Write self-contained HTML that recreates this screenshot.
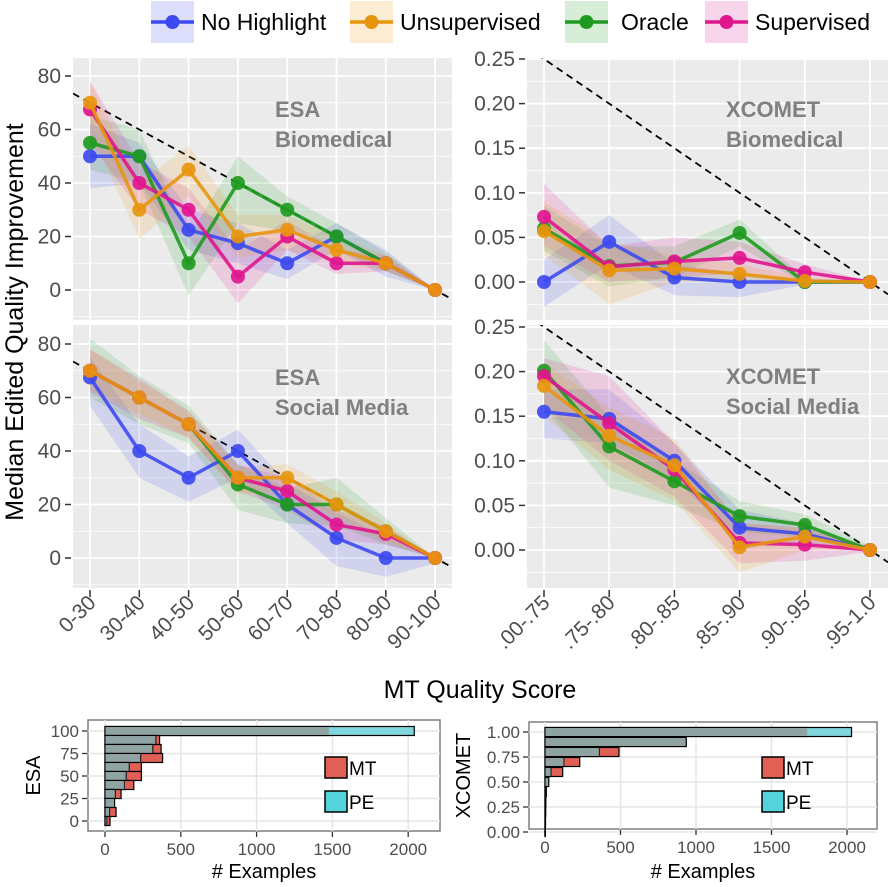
<!DOCTYPE html>
<html><head><meta charset="utf-8"><style>
html,body{margin:0;padding:0;background:#fff;}
svg{display:block;font-family:"Liberation Sans",Arial,sans-serif;}
.tk{fill:#4d4d4d;font-size:21px;}
.htk{fill:#4d4d4d;font-size:17px;}
.plab{fill:#808080;font-size:22px;font-weight:bold;}
</style></head><body>
<svg id="chart" width="892" height="887" viewBox="0 0 892 887" xmlns="http://www.w3.org/2000/svg">
<defs>
<clipPath id="cTL"><rect x="73" y="58" width="379" height="262"/></clipPath>
<clipPath id="cTR"><rect x="527" y="58" width="361" height="262"/></clipPath>
<clipPath id="cBL"><rect x="73" y="325" width="379" height="263"/></clipPath>
<clipPath id="cBR"><rect x="527" y="325" width="361" height="263"/></clipPath>
</defs>
<g id="root"></g>
</svg>
<script>
// ---- data ----
const esaCats = ["0-30","30-40","40-50","50-60","60-70","70-80","80-90","90-100"];
const xcCats = [".00-.75",".75-.80",".80-.85",".85-.90",".90-.95",".95-1.0"];
const seriesNames = ["No Highlight","Unsupervised","Oracle","Supervised"];
const seriesColors = ["#3d4af0","#e8950e","#1f9a1f","#e0168f"];
const drawOrder = [0,2,3,1];
const esaTicks = [0,20,40,60,80];
const xcTicks = [0,0.05,0.10,0.15,0.20,0.25];
const xcTickLabels = ["0.00","0.05","0.10","0.15","0.20","0.25"];

// ESA Biomedical
const esaBioBlue = [50,50,22.5,17.5,10,20,10,0];
const esaBioOrange = [70,30,45,20,22.5,15,10,0];
const esaBioGreen = [55,50,10,40,30,20,10,0];
const esaBioPink = [67.5,40,30,5,20,10,10,0];
const esaBioLo = [[38,40,15,10,4,15,5,0],[60,19,35,12,15,10,7,0],[45,40,-2,25,22,15,7,0],[55,30,20,-5,15,6,7,0]];
const esaBioHi = [[62,55,30,25,15,25,15,0],[78,40,54,28,28,20,13,0],[65,60,20,50,35,25,14,0],[78,48,38,15,26,15,13,0]];
// XCOMET Biomedical
const xcBioBlue = [0,0.045,0.005,0,0,0];
const xcBioOrange = [0.057,0.013,0.015,0.009,0.001,0];
const xcBioGreen = [0.06,0.018,0.022,0.055,0,0];
const xcBioPink = [0.073,0.017,0.023,0.027,0.011,0];
const xcBioLo = [[-0.028,0.02,-0.015,-0.017,-0.003,0],[0.03,-0.025,0,0,-0.002,0],[0.035,-0.005,0.005,0.04,-0.003,0],[0.04,0,0.005,0.01,0,0]];
const xcBioHi = [[0.025,0.075,0.02,0.01,0.003,0],[0.09,0.045,0.03,0.02,0.005,0],[0.085,0.04,0.04,0.07,0.004,0],[0.11,0.04,0.05,0.045,0.02,0]];
// ESA Social Media
const esaSocBlue = [67.5,40,30,40,20,7.5,0,0];
const esaSocOrange = [70,60,50,30,30,20,10,0];
const esaSocGreen = [70,60,50,27.5,20,20,10,0];
const esaSocPink = [70,60,50,30,25,12.5,9,0];
const esaSocLo = [[57,30,21,30,13,-3,-7,-2],[63,54,45,24,25,15,6,0],[60,50,43,18,13,12,5,0],[62,52,45,25,18,7,5,0]];
const esaSocHi = [[75,50,38,48,28,17,8,0],[78,66,55,34,35,25,13,0],[82,68,57,35,26,30,15,0],[78,67,55,35,30,18,12,0]];
// XCOMET Social Media
const xcSocBlue = [0.155,0.147,0.1,0.025,0.018,0];
const xcSocOrange = [0.184,0.128,0.095,0.003,0.015,0];
const xcSocGreen = [0.201,0.116,0.077,0.038,0.028,0];
const xcSocPink = [0.195,0.142,0.09,0.008,0.006,0];
const xcSocLo = [[0.125,0.12,0.08,0.01,0.005,0],[0.15,0.09,0.055,-0.025,0,0],[0.16,0.07,0.05,0.02,0.015,-0.003],[0.16,0.1,0.06,-0.015,-0.012,-0.002]];
const xcSocHi = [[0.18,0.18,0.12,0.045,0.03,0],[0.21,0.16,0.125,0.03,0.025,0],[0.235,0.15,0.1,0.055,0.04,0.005],[0.215,0.195,0.12,0.03,0.025,0.004]];

// histograms
const esaBins = [100,90,80,70,60,50,40,30,20,10,0];
const esaMT = [1480,360,370,380,240,240,190,106,60,73,33];
const esaPE = [2040,335,315,235,160,140,128,68,63,30,12];
const xcBins = [1.0,0.9,0.8,0.7,0.6,0.5,0.4,0.3,0.2,0.1,0.0];
const xcMT = [1740,935,490,230,117,22,8,5,4,3,2];
const xcPE = [2030,935,360,125,40,25,8,5,4,3,2];
const histXTicks = [0,500,1000,1500,2000];
const esaHistYTicks = [0,25,50,75,100];
const xcHistYTicks = [0,0.25,0.5,0.75,1.0];
const xcHistYLabels = ["0.00","0.25","0.50","0.75","1.00"];

const NS="http://www.w3.org/2000/svg";
const root=document.getElementById('root');
function el(tag,attrs,parent,text){const e=document.createElementNS(NS,tag);for(const k in attrs)e.setAttribute(k,attrs[k]);if(text!==undefined)e.textContent=text;(parent||root).appendChild(e);return e;}

function panel(cfg){
  const g=el('g',{});
  
  
  const {px,py,pw,ph,x0,dx,yz,ky,cats,ticks,tlabels,clip}=cfg;
  const X=i=>x0+i*dx, Y=v=>yz-v*ky;
  const bg=el('rect',{x:px,y:py,width:pw,height:ph,fill:'#ebebeb'},g);
  
  
  for(let k=0;k<ticks.length+1;k++){
    const step=ticks[1]-ticks[0];
    const v=ticks[0]+step*(k-0.5);
    const y=Y(v); if(y>py&&y<py+ph) el('line',{x1:px,x2:px+pw,y1:y,y2:y,stroke:'#fff','stroke-width':0.8},g);
  }
  ticks.forEach((t,k)=>{
    const y=Y(t);
    if(y>=py-1&&y<=py+ph){
      el('line',{x1:px,x2:px+pw,y1:y,y2:y,stroke:'#fff','stroke-width':1.8},g);
    }
    if(cfg.ylabels){
      el('line',{x1:px-8,x2:px-2,y1:y,y2:y,stroke:'#333','stroke-width':1.5},g);
      const t2=el('text',{x:px-12,y:y+7,'text-anchor':'end',class:'tk'},g,tlabels[k]);
      
      
    }
  });
  cats.forEach((c,i)=>el('line',{x1:X(i),x2:X(i),y1:py,y2:py+ph,stroke:'#fff','stroke-width':1.8},g));
  const cg=el('g',{'clip-path':'url(#'+clip+')'},g);
  const dv=i=>cfg.d0-cfg.dstep*i;
  const ia=(px-x0)/dx, ib=(px+pw-x0)/dx;
  const dl=el('line',{x1:px,y1:Y(dv(ia)),x2:px+pw,y2:Y(dv(ib)),stroke:'#000','stroke-width':1.8,'stroke-dasharray':'7,5'},cg);
  
  
  drawOrder.forEach(s=>{
    const lo=cfg.lo[s],hi=cfg.hi[s];
    let d='M'+hi.map((v,i)=>X(i)+','+Y(v)).join('L')+'L'+lo.map((v,i)=>[X(i),Y(v)]).reverse().map(p=>p.join(',')).join('L')+'Z';
    const r=el('path',{d:d,fill:seriesColors[s],'fill-opacity':0.15},cg);
    
    
  });
  drawOrder.forEach(s=>{
    const vals=cfg.series[s];
    const l=el('polyline',{points:vals.map((v,i)=>X(i)+','+Y(v)).join(' '),fill:'none',stroke:seriesColors[s],'stroke-width':3.5,'stroke-opacity':0.9,'stroke-linejoin':'round'},cg);
    
    
    vals.forEach((v,i)=>{
      const c=el('circle',{cx:X(i),cy:Y(v),r:7,fill:seriesColors[s],'fill-opacity':0.92},cg);
      
      
    });
  });
  const l1=el('text',{x:cfg.lx,y:cfg.ly,class:'plab'},g,cfg.lab1);
  
  
  const l2=el('text',{x:cfg.lx,y:cfg.ly+30,class:'plab'},g,cfg.lab2);
  
  
  if(cfg.xlabels){
    cats.forEach((c,i)=>{
      el('line',{x1:X(i),x2:X(i),y1:py+ph+2,y2:py+ph+9,stroke:'#333','stroke-width':1.5},g);
      const t=el('text',{x:0,y:0,'text-anchor':'end',class:'tk',transform:'translate('+(X(i)+7)+','+(py+ph+16)+') rotate(-45)'},g,c);
      
      
    });
  }
}
const esaT=esaTicks.map(String);
panel({name:'panel-esa-biomedical',px:73,py:58,pw:379,ph:262,x0:90,dx:49.3,yz:290,ky:2.675,cats:esaCats,ticks:esaTicks,tlabels:esaT,clip:'cTL',d0:70,dstep:10,lo:esaBioLo,hi:esaBioHi,series:[esaBioBlue,esaBioOrange,esaBioGreen,esaBioPink],lx:275,ly:117,lab1:'ESA',lab2:'Biomedical',ylabels:true,xlabels:false});
panel({name:'panel-xcomet-biomedical',px:527,py:58,pw:361,ph:262,x0:544,dx:65.2,yz:282,ky:892,cats:xcCats,ticks:xcTicks,tlabels:xcTickLabels,clip:'cTR',d0:0.25,dstep:0.05,lo:xcBioLo,hi:xcBioHi,series:[xcBioBlue,xcBioOrange,xcBioGreen,xcBioPink],lx:726,ly:117,lab1:'XCOMET',lab2:'Biomedical',ylabels:true,xlabels:false});
panel({name:'panel-esa-social-media',px:73,py:325,pw:379,ph:263,x0:90,dx:49.3,yz:558,ky:2.675,cats:esaCats,ticks:esaTicks,tlabels:esaT,clip:'cBL',d0:70,dstep:10,lo:esaSocLo,hi:esaSocHi,series:[esaSocBlue,esaSocOrange,esaSocGreen,esaSocPink],lx:275,ly:385,lab1:'ESA',lab2:'Social Media',ylabels:true,xlabels:true});
panel({name:'panel-xcomet-social-media',px:527,py:325,pw:361,ph:263,x0:544,dx:65.2,yz:550,ky:892,cats:xcCats,ticks:xcTicks,tlabels:xcTickLabels,clip:'cBR',d0:0.25,dstep:0.05,lo:xcSocLo,hi:xcSocHi,series:[xcSocBlue,xcSocOrange,xcSocGreen,xcSocPink],lx:726,ly:384,lab1:'XCOMET',lab2:'Social Media',ylabels:true,xlabels:true});

const yt=el('text',{x:0,y:0,'text-anchor':'middle','font-size':25,fill:'#000',transform:'translate(23,322) rotate(-90)'},root,'Median Edited Quality Improvement');


const xt=el('text',{x:480,y:698,'text-anchor':'middle','font-size':25,fill:'#000'},root,'MT Quality Score');



const legX=[151,350,565,705];
seriesNames.forEach((n,s)=>{
  const g=el('g',{});
  
  
  el('rect',{x:legX[s],y:1,width:43,height:42,fill:seriesColors[s],'fill-opacity':0.18},g);
  el('line',{x1:legX[s],x2:legX[s]+43,y1:22,y2:22,stroke:seriesColors[s],'stroke-width':3.5},g);
  el('circle',{cx:legX[s]+21.5,cy:22,r:7,fill:seriesColors[s]},g);
  el('text',{x:legX[s]+50+(s==2?6:0),y:30,'font-size':23,fill:'#000'},g,n);
});

function hist(cfg){
  const g=el('g',{});
  
  
  const {px,py,pw,ph,xz,kx,yz,ky,binH}=cfg;
  const X=v=>xz+v*kx, Y=v=>yz-v*ky;
  el('rect',{x:px,y:py,width:pw,height:ph,fill:'#fff',stroke:'#7f7f7f','stroke-width':1.5},g);
  cfg.yt.forEach((t,k)=>{
    el('line',{x1:px,x2:px+pw,y1:Y(t),y2:Y(t),stroke:'#e5e5e5','stroke-width':1.5},g);
    el('line',{x1:px-6,x2:px-1,y1:Y(t),y2:Y(t),stroke:'#333','stroke-width':1.3},g);
    const tl=el('text',{x:px-9,y:Y(t)+6,'text-anchor':'end',class:'htk'},g,cfg.ytl[k]);
    
    
  });
  histXTicks.forEach(t=>{
    el('line',{x1:X(t),x2:X(t),y1:py,y2:py+ph,stroke:'#e5e5e5','stroke-width':1.5},g);
    el('line',{x1:X(t),x2:X(t),y1:py+ph+1,y2:py+ph+6,stroke:'#333','stroke-width':1.3},g);
    const tl=el('text',{x:X(t),y:py+ph+24,'text-anchor':'middle',class:'htk'},g,String(t));
    
    
  });
  cfg.bins.forEach((b,i)=>{
    const y=Y(b)-binH/2, mt=cfg.mt[i], pe=cfg.pe[i], mn=Math.min(mt,pe);
    const r1=el('rect',{x:X(0),y:y,width:X(mt)-X(0),height:binH,fill:'#e06055',stroke:'#000','stroke-width':1.2},g);
    
    
    const r2=el('rect',{x:X(0),y:y,width:X(pe)-X(0),height:binH,fill:pe>mt?'#7fd6dc':'#8fa3a3',stroke:'#000','stroke-width':1.2},g);
    
    
    el('rect',{x:X(0)+0.6,y:y+0.6,width:Math.max(0,X(mn)-X(0)-1.2),height:binH-1.2,fill:'#8fa3a3'},g);
    if(mt>pe) el('line',{x1:X(pe),x2:X(pe),y1:y,y2:y+binH,stroke:'#333','stroke-width':0.8},g);
  });
  el('rect',{x:cfg.lgx,y:757,width:22,height:21,fill:'#e06055',stroke:'#000','stroke-width':1.5},g);
  el('text',{x:cfg.lgx+24,y:775,'font-size':19,fill:'#000'},g,'MT');
  el('rect',{x:cfg.lgx,y:791,width:22,height:21,fill:'#55d3db',stroke:'#000','stroke-width':1.5},g);
  el('text',{x:cfg.lgx+24,y:809,'font-size':19,fill:'#000'},g,'PE');
  const xt=el('text',{x:(px+pw/2),y:878,'text-anchor':'middle','font-size':20,fill:'#000'},g,'# Examples');
  
  
  const ytt=el('text',{x:0,y:0,'text-anchor':'middle','font-size':20,fill:'#000',transform:'translate('+cfg.ytx+','+(py+ph/2)+') rotate(-90)'},g,cfg.ytitle);
  
  
}
hist({name:'histogram-esa',px:88,py:720,pw:352,ph:111,xz:105,kx:0.1516,yz:821,ky:0.9,binH:9,bins:esaBins,mt:esaMT,pe:esaPE,yt:esaHistYTicks,ytl:esaHistYTicks.map(String),lgx:325,ytitle:'ESA',ytx:40});
hist({name:'histogram-xcomet',px:529,py:722,pw:348,ph:107,xz:545,kx:0.151,yz:832,ky:100,binH:9,bins:xcBins,mt:xcMT,pe:xcPE,yt:xcHistYTicks,ytl:xcHistYLabels,lgx:762,ytitle:'XCOMET',ytx:470});
</script>
</body></html>
